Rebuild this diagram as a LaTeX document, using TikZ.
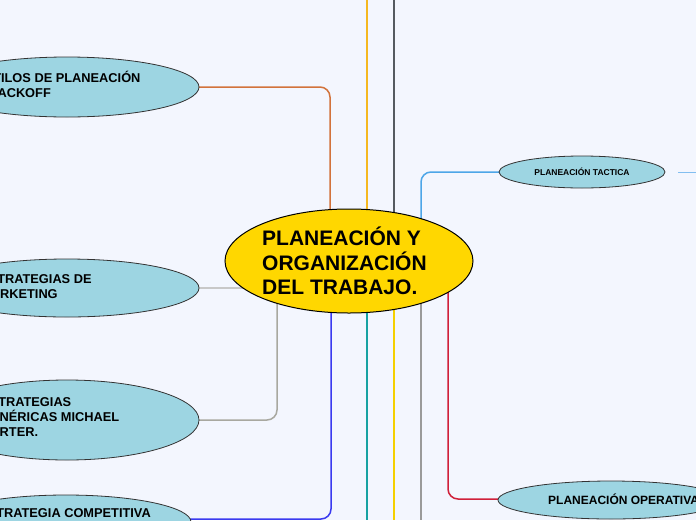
\documentclass[tikz,border=0pt]{standalone}
\usepackage{fontspec}
\setmainfont{Liberation Sans}
\usetikzlibrary{shapes.geometric}
\definecolor{bg}{HTML}{F3F6FE}
\definecolor{subfill}{HTML}{9DD5E2}
\definecolor{mainfill}{HTML}{FFD700}
\begin{document}
\begin{tikzpicture}[x=1pt,y=-1pt,
  sub/.style={ellipse,draw=black!80,line width=0.8pt,fill=subfill,inner sep=0pt},
  lbl/.style={anchor=north west,align=left,font=\bfseries\fontsize{12.8}{15}\selectfont,inner sep=0pt},
  conn/.style={line width=1.5pt,rounded corners=10pt}]
\useasboundingbox (0,0) rectangle (696,520);
\fill[bg] (0,0) rectangle (696,520);
% coordinates
\coordinate (top1) at (367,0); \coordinate (top2) at (394,0);
\coordinate (b1) at (367,520); \coordinate (b2) at (394,520); \coordinate (b3) at (421,520);
\coordinate (tr) at (696,172); \coordinate (tl) at (678,172);
\coordinate (cc) at (349,261);
% connectors
\draw[conn,color={rgb,255:red,210;green,115;blue,60}] (199,87) -- (330,87) -- (330,261);
\draw[conn,color={rgb,255:red,245;green,184;blue,32}] (top1) -- (367,261);
\draw[conn,color={rgb,255:red,85;green,90;blue,96}] (top2) -- (394,261);
\draw[conn,color={rgb,255:red,77;green,166;blue,232}] (421,261) -- (421,172) -- (520,172);
\draw[conn,color={rgb,255:red,130;green,190;blue,240},line width=1pt] (tl) -- (tr);
\draw[conn,color={rgb,255:red,200;green,200;blue,200}] (199,288) -- (300,288);
\draw[conn,color={rgb,255:red,168;green,168;blue,160}] (199,420) -- (277,420) -- (277,261);
\draw[conn,color={rgb,255:red,58;green,58;blue,240}] (331,261) -- (331,519) -- (180,519);
\draw[conn,color={rgb,255:red,23;green,162;blue,162}] (367,261) -- (b1);
\draw[conn,color={rgb,255:red,245;green,208;blue,0}] (394,261) -- (b2);
\draw[conn,color={rgb,255:red,154;green,154;blue,154}] (421,261) -- (b3);
\draw[conn,color={rgb,255:red,208;green,32;blue,58}] (448,261) -- (448,499) -- (520,499);
% nodes
\node[ellipse,draw=black,line width=1pt,fill=mainfill,minimum width=248pt,minimum height=104pt,inner sep=0pt] (c) at (cc) {};
\node[anchor=north west,align=left,font=\bfseries\fontsize{21}{24.5}\selectfont,inner sep=0pt] (ct) at (262,227) {PLANEACIÓN Y\\ORGANIZACIÓN\\DEL TRABAJO.};
\node[sub,minimum width=264pt,minimum height=60pt] (e1) at (67,87) {};
\node[lbl] (l1) at (-24,71) {ESTILOS DE PLANEACIÓN\\DE ACKOFF};
\node[sub,minimum width=264pt,minimum height=58pt] (e2) at (67,288) {};
\node[lbl] (l2) at (-20,274) {ESTRATEGIAS DE\\MARKETING};
\node[sub,minimum width=264pt,minimum height=80pt] (e3) at (67,420) {};
\node[lbl] (l3) at (-19,397) {ESTRATEGIAS\\GENÉRICAS MICHAEL\\PORTER.};
\node[sub,minimum width=250pt,minimum height=54pt] (e4) at (66,522) {};
\node[lbl] (l4) at (-21,508) {ESTRATEGIA COMPETITIVA};
\node[sub,minimum width=166pt,minimum height=32pt] (t) at (582,172) {};
\node[font=\bfseries\fontsize{8.5}{10}\selectfont] (tt) at (582,172) {PLANEACIÓN TACTICA};
\node[sub,minimum width=226pt,minimum height=38pt] (o) at (611,500) {};
\node[anchor=west,font=\bfseries\fontsize{12}{14}\selectfont,inner sep=0pt] (ot) at (548,499) {PLANEACIÓN OPERATIVA};
\end{tikzpicture}
\end{document}
